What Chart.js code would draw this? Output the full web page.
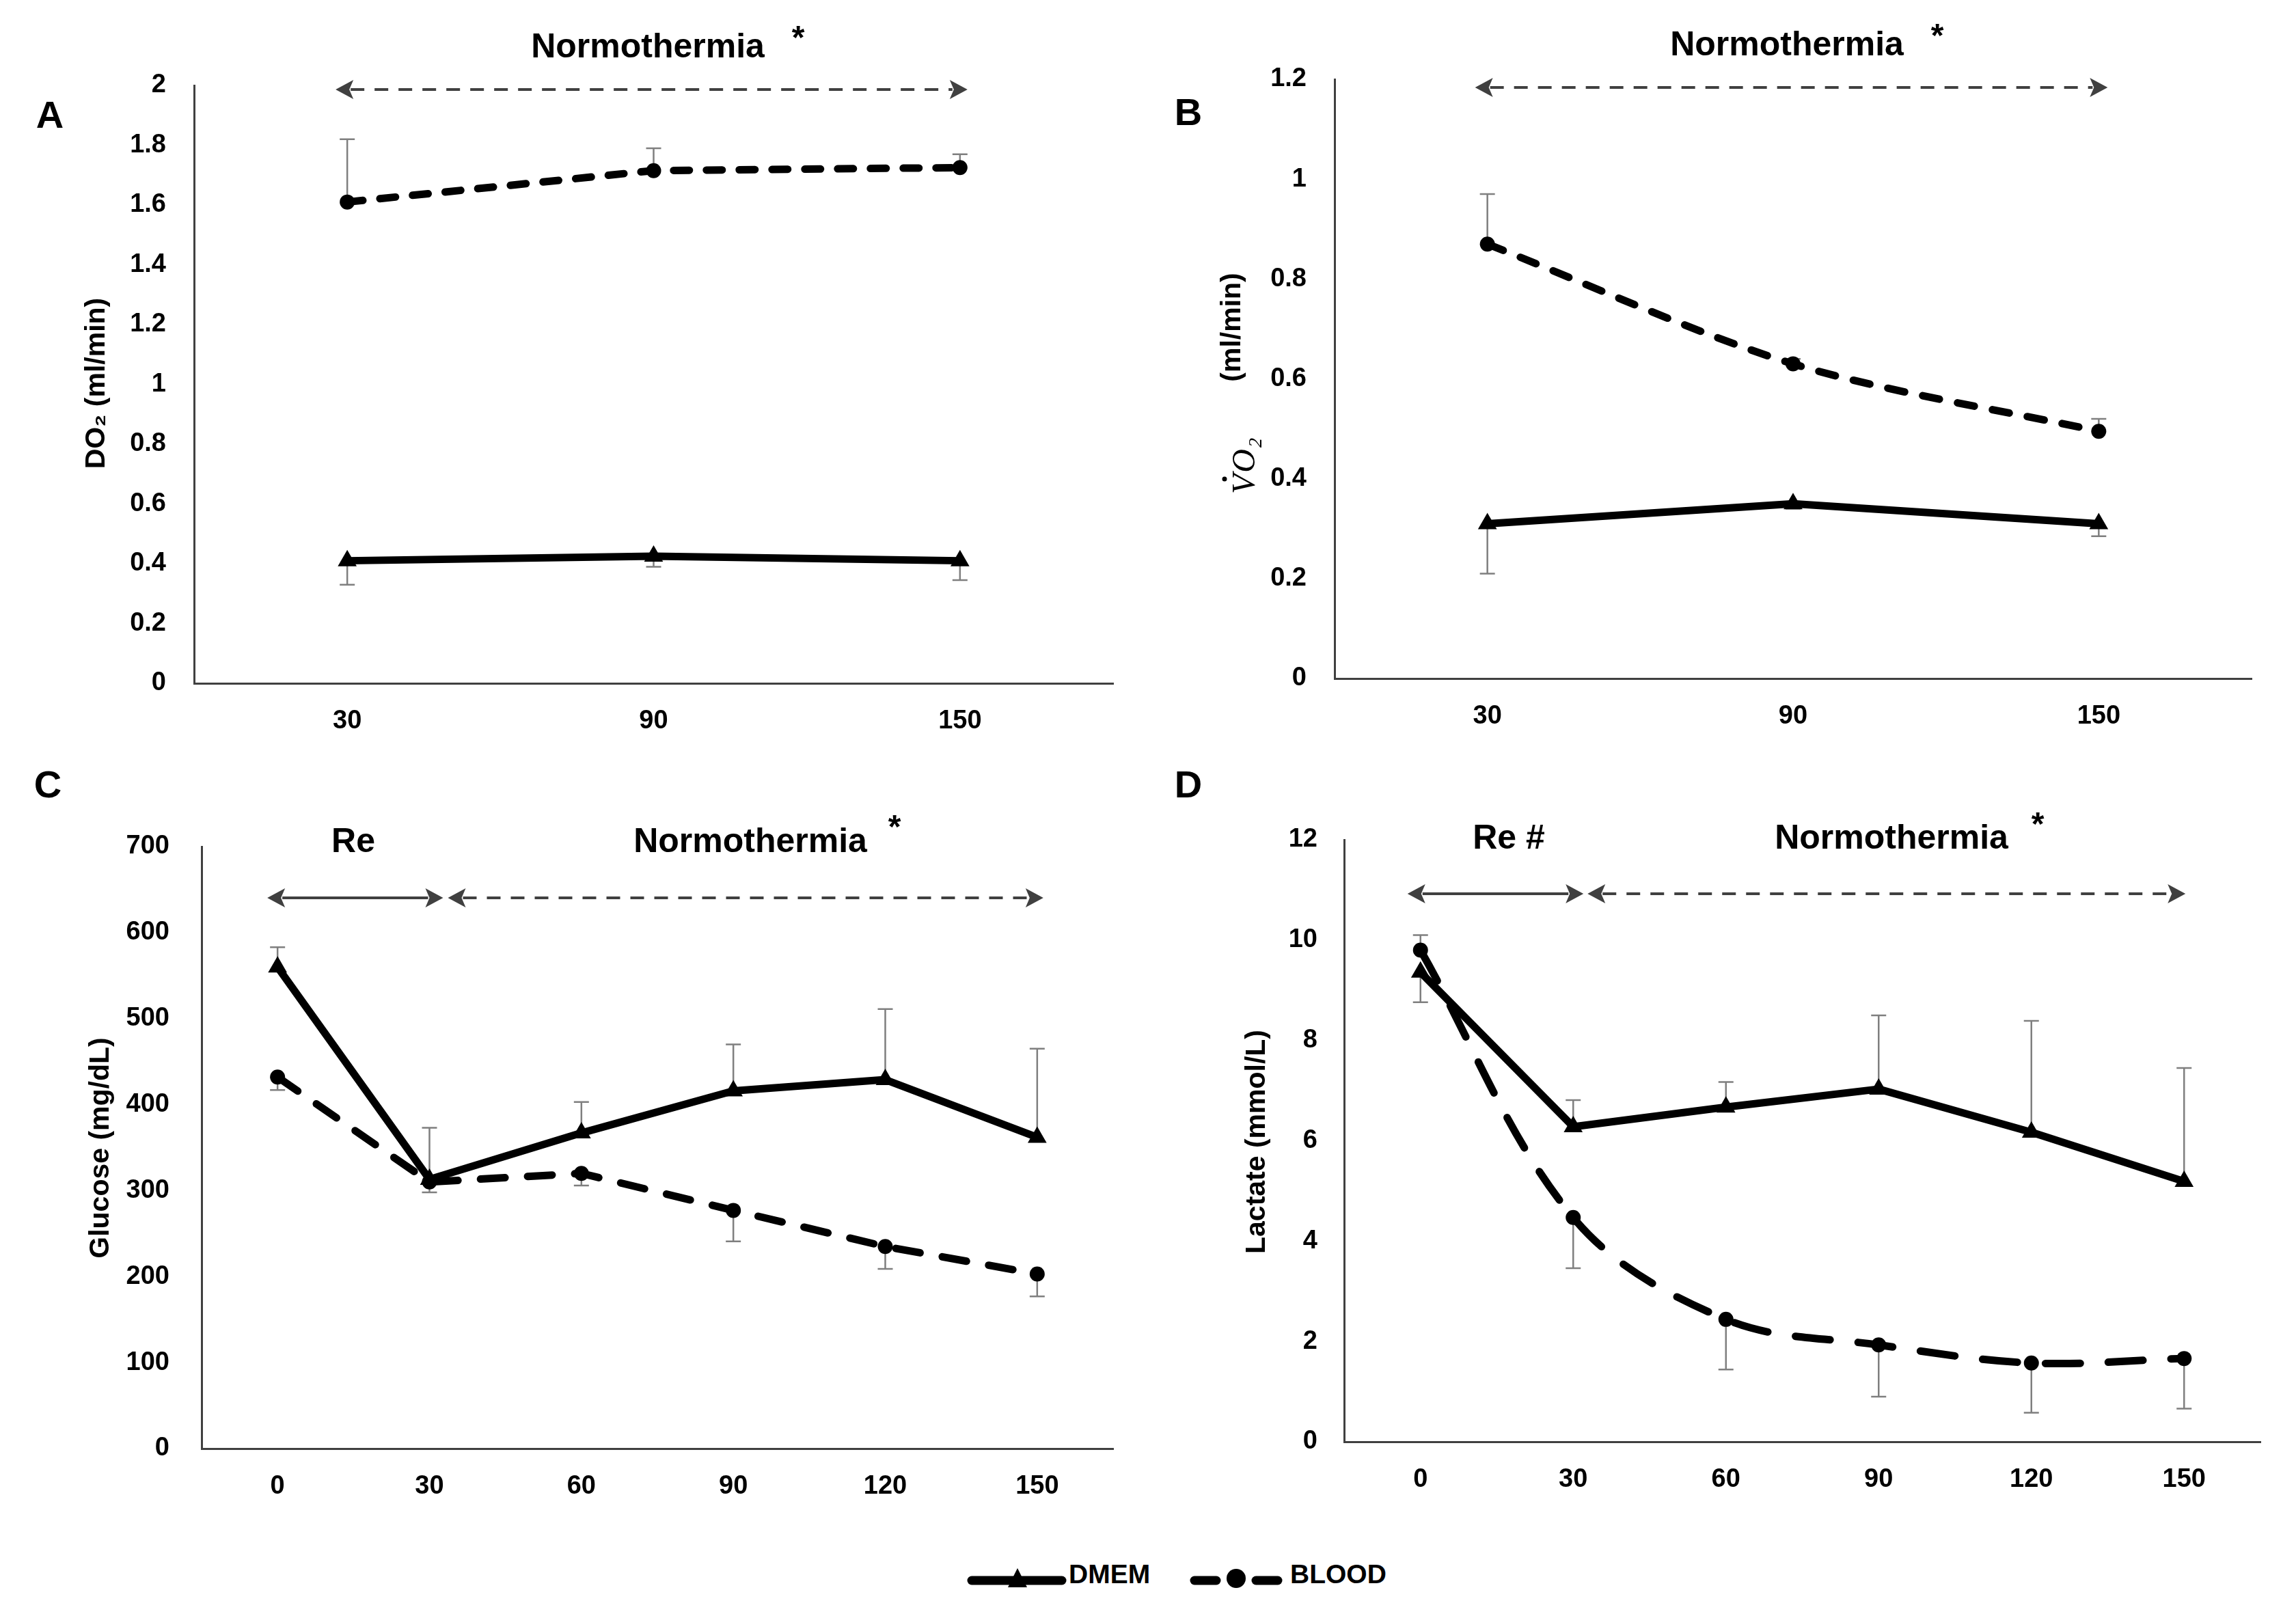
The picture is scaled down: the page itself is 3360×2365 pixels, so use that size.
<!DOCTYPE html>
<html><head><meta charset="utf-8">
<script src="https://cdn.jsdelivr.net/npm/chart.js@4.4.0/dist/chart.umd.min.js"></script>
<style>
html,body{margin:0;padding:0;background:#fff;}
#wrap{position:relative;width:3360px;height:2365px;background:#fff;overflow:hidden;}
#wrap canvas{position:absolute;}
.lg{position:absolute;top:2282px;height:62px;line-height:62px;font:bold 39px "Liberation Sans",Arial,sans-serif;color:#000;white-space:nowrap;}
</style></head><body>
<div id="wrap">
<canvas id="cA" width="1680" height="1100" style="left:0px;top:0px;width:1680px;height:1100px"></canvas>
<canvas id="cB" width="1680" height="1100" style="left:1680px;top:0px;width:1680px;height:1100px"></canvas>
<canvas id="cC" width="1680" height="1160" style="left:0px;top:1100px;width:1680px;height:1160px"></canvas>
<canvas id="cD" width="1680" height="1160" style="left:1680px;top:1100px;width:1680px;height:1160px"></canvas>
<svg class="lg" style="left:1412px;width:150px" width="150" height="62"><line x1="10" y1="31" x2="142" y2="31" stroke="#000" stroke-width="13" stroke-linecap="round"/><polygon points="77,13 91,41 63,41" fill="#000"/></svg>
<span class="lg" style="left:1564px">DMEM</span>
<svg class="lg" style="left:1736px;width:145px" width="145" height="62"><line x1="12" y1="31" x2="44" y2="31" stroke="#000" stroke-width="13" stroke-linecap="round"/><line x1="102" y1="31" x2="134" y2="31" stroke="#000" stroke-width="13" stroke-linecap="round"/><circle cx="73" cy="28" r="14" fill="#000"/></svg>
<span class="lg" style="left:1888px">BLOOD</span>
</div>
<script>
// ---------- DATA ----------
const timesAB = ['30', '90', '150'];
const timesCD = ['0', '30', '60', '90', '120', '150'];

const seriesNames = ['DMEM', 'BLOOD'];

// Panel A: DO2 (ml/min)
const do2Dmem = [0.41, 0.425, 0.41];
const do2DmemErrEnd = [0.33, 0.39, 0.345];
const do2Blood = [1.61, 1.715, 1.725];
const do2BloodErrEnd = [1.82, 1.79, 1.77];
const do2Ticks = [0, 0.2, 0.4, 0.6, 0.8, 1, 1.2, 1.4, 1.6, 1.8, 2];

// Panel B: VO2 (ml/min)
const vo2Dmem = [0.31, 0.35, 0.31];
const vo2DmemErrEnd = [0.21, 0.34, 0.285];
const vo2Blood = [0.87, 0.63, 0.495];
const vo2BloodErrEnd = [0.97, 0.64, 0.52];
const vo2Ticks = [0, 0.2, 0.4, 0.6, 0.8, 1, 1.2];

// Panel C: Glucose (mg/dL)
const gluDmem = [560, 313, 367, 416, 429, 362];
const gluDmemErrEnd = [583, 373, 403, 470, 511, 465];
const gluBlood = [432, 310, 320, 277, 235, 203];
const gluBloodErrEnd = [417, 298, 306, 241, 209, 177];
const gluTicks = [0, 100, 200, 300, 400, 500, 600, 700];

// Panel D: Lactate (mmol/L)
const lacDmem = [9.36, 6.28, 6.67, 7.03, 6.17, 5.19];
const lacDmemErrEnd = [8.76, 6.81, 7.17, 8.5, 8.39, 7.45];
const lacBlood = [9.8, 4.47, 2.44, 1.93, 1.57, 1.66];
const lacBloodErrEnd = [10.1, 3.46, 1.44, 0.9, 0.58, 0.66];
const lacTicks = [0, 2, 4, 6, 8, 10, 12];

// ---------- STYLE ----------
const SANS = '"Liberation Sans", Arial, sans-serif';
const AXIS_COLOR = '#404040';
const ARROW_COLOR = '#404040';

const errorBars = {
  id: 'errorBars',
  beforeDatasetsDraw(chart) {
    const ctx = chart.ctx, ys = chart.scales.y;
    chart.data.datasets.forEach((ds, i) => {
      if (!ds.errEnds) return;
      const meta = chart.getDatasetMeta(i);
      meta.data.forEach((pt, j) => {
        const y2 = ys.getPixelForValue(ds.errEnds[j]);
        ctx.save();
        ctx.strokeStyle = '#7f7f7f';
        ctx.lineWidth = 2.5;
        ctx.beginPath();
        ctx.moveTo(pt.x, pt.y); ctx.lineTo(pt.x, y2);
        ctx.moveTo(pt.x - 11, y2); ctx.lineTo(pt.x + 11, y2);
        ctx.stroke();
        ctx.restore();
      });
    });
  }
};

function drawArrow(ctx, x1, x2, y, dashed) {
  const hl = 26, hh = 14;
  ctx.save();
  ctx.strokeStyle = ARROW_COLOR; ctx.fillStyle = ARROW_COLOR; ctx.lineWidth = 4;
  ctx.setLineDash(dashed ? [20, 15] : []);
  ctx.beginPath(); ctx.moveTo(x1 + hl - 4, y); ctx.lineTo(x2 - hl + 4, y); ctx.stroke();
  ctx.setLineDash([]);
  ctx.beginPath(); ctx.moveTo(x1, y); ctx.lineTo(x1 + hl, y - hh); ctx.lineTo(x1 + hl - 6, y); ctx.lineTo(x1 + hl, y + hh); ctx.closePath(); ctx.fill();
  ctx.beginPath(); ctx.moveTo(x2, y); ctx.lineTo(x2 - hl, y - hh); ctx.lineTo(x2 - hl + 6, y); ctx.lineTo(x2 - hl, y + hh); ctx.closePath(); ctx.fill();
  ctx.restore();
}

const annot = {
  id: 'annot',
  afterDraw(chart, args, o) {
    const ctx = chart.ctx, xs = chart.scales.x;
    ctx.save();
    ctx.fillStyle = '#000';
    ctx.textAlign = 'center'; ctx.textBaseline = 'middle';
    ctx.font = 'bold 56px ' + SANS;
    ctx.fillText(o.letter[0], o.letter[1], o.letter[2]);
    o.texts.forEach(t => {
      ctx.font = 'bold ' + t[3] + 'px ' + SANS;
      ctx.fillText(t[0], t[1], t[2]);
    });
    o.arrows.forEach(a => {
      const x1 = xs.getPixelForValue(a.from) + a.d1;
      const x2 = xs.getPixelForValue(a.to) + a.d2;
      drawArrow(ctx, x1, x2, a.y, a.dashed);
    });
    // rotated y title
    ctx.translate(o.yTitle.x, o.yTitle.y);
    ctx.rotate(-Math.PI / 2);
    if (o.yTitle.custom) {
      o.yTitle.custom(ctx);
    } else {
      ctx.font = 'bold 41px ' + SANS;
      ctx.fillText(o.yTitle.text, 0, 0);
    }
    ctx.restore();
  }
};

function vo2Title(ctx) {
  // in rotated frame: +x goes up on the page, +y goes to the right
  ctx.textAlign = 'left'; ctx.textBaseline = 'alphabetic';
  ctx.font = 'italic 48px "Liberation Serif", "DejaVu Serif", serif';
  const x0 = -165;
  const base = 16;
  ctx.fillText('V', x0, base + 8);
  const wV = ctx.measureText('V').width;
  ctx.fillText('O', x0 + wV + 2, base + 8);
  const wO = ctx.measureText('O').width;
  ctx.beginPath(); ctx.arc(x0 + wV * 0.75, base - 36, 3.5, 0, Math.PI * 2); ctx.fill();
  ctx.font = 'italic 28px "Liberation Serif", "DejaVu Serif", serif';
  ctx.fillText('2', x0 + wV + wO + 4, base + 18);
  ctx.font = 'bold 41px ' + SANS;
  ctx.textAlign = 'center'; ctx.textBaseline = 'middle';
  ctx.fillText('(ml/min)', 79, -8);
}

function makeChart(id, p) {
  const canvas = document.getElementById(id);
  const W = canvas.width, H = canvas.height;
  new Chart(canvas, {
    type: 'line',
    data: {
      labels: p.labels,
      datasets: [
        {
          label: seriesNames[0], data: p.dmem, errEnds: p.dmemErr,
          borderColor: '#000', backgroundColor: '#000', borderWidth: 11,
          pointStyle: 'triangle', pointRadius: 16, pointBorderWidth: 0,
          pointBackgroundColor: '#000', tension: 0, borderJoinStyle: 'round'
        },
        {
          label: seriesNames[1], data: p.blood, errEnds: p.bloodErr,
          borderColor: '#000', backgroundColor: '#000', borderWidth: 11,
          borderDash: p.dash, borderCapStyle: 'round',
          pointStyle: 'circle', pointRadius: 11, pointBorderWidth: 0,
          pointBackgroundColor: '#000', tension: p.tension,
          cubicInterpolationMode: 'default'
        }
      ]
    },
    options: {
      responsive: false, animation: false, devicePixelRatio: 1,
      layout: { padding: { top: p.area.top, right: W - p.area.right, left: 0, bottom: 0 } },
      plugins: { legend: { display: false }, tooltip: { enabled: false }, annot: p.annot },
      scales: {
        x: {
          type: 'category', offset: true,
          grid: { display: false, drawTicks: false },
          border: { display: true, color: AXIS_COLOR, width: 3 },
          ticks: { color: '#000', font: { family: SANS, size: 38, weight: 'bold' }, padding: 33, maxRotation: 0, autoSkip: false },
          afterFit: s => { s.height = H - p.area.bottom; }
        },
        y: {
          min: p.yTicks[0], max: p.yTicks[p.yTicks.length - 1],
          grid: { display: false, drawTicks: false },
          border: { display: true, color: AXIS_COLOR, width: 3 },
          ticks: { color: '#000', font: { family: SANS, size: 38, weight: 'bold' }, padding: p.tickPad, callback: v => String(v) },
          afterBuildTicks: s => { s.ticks = p.yTicks.map(v => ({ value: v })); },
          afterFit: s => { s.width = p.area.left; }
        }
      }
    },
    plugins: [errorBars, annot]
  });
}

makeChart('cA', {
  labels: timesAB, dmem: do2Dmem, dmemErr: do2DmemErrEnd, blood: do2Blood, bloodErr: do2BloodErrEnd,
  yTicks: do2Ticks, dash: [23, 25], tension: 0, tickPad: 41,
  area: { left: 284, right: 1629, top: 125, bottom: 1000 },
  annot: {
    letter: ['A', 73, 172],
    texts: [['Normothermia', 948, 70, 50], ['*', 1168, 58, 48]],
    arrows: [{ from: 0, to: 2, d1: -17, d2: 11, y: 131, dashed: true }],
    yTitle: { x: 142, y: 561, text: 'DO\u2082 (ml/min)' }
  }
});

makeChart('cB', {
  labels: timesAB, dmem: vo2Dmem, dmemErr: vo2DmemErrEnd, blood: vo2Blood, bloodErr: vo2BloodErrEnd,
  yTicks: vo2Ticks, dash: [25, 27], tension: 0.3, tickPad: 41,
  area: { left: 273, right: 1615, top: 116, bottom: 993 },
  annot: {
    letter: ['B', 59, 168],
    texts: [['Normothermia', 935, 67, 50], ['*', 1155, 55, 48]],
    arrows: [{ from: 0, to: 2, d1: -18, d2: 13, y: 128, dashed: true }],
    yTitle: { x: 132, y: 558, custom: vo2Title }
  }
});

makeChart('cC', {
  labels: timesCD, dmem: gluDmem, dmemErr: gluDmemErrEnd, blood: gluBlood, bloodErr: gluBloodErrEnd,
  yTicks: gluTicks, dash: [36, 33], tension: 0, tickPad: 47,
  area: { left: 295, right: 1629, top: 139, bottom: 1020 },
  annot: {
    letter: ['C', 70, 52],
    texts: [['Re', 517, 133, 50], ['Normothermia', 1098, 133, 50], ['*', 1309, 113, 48]],
    arrows: [
      { from: 0, to: 1, d1: -15, d2: 20, y: 214, dashed: false },
      { from: 1, to: 5, d1: 27, d2: 9, y: 214, dashed: true }
    ],
    yTitle: { x: 148, y: 580, text: 'Glucose (mg/dL)' }
  }
});

makeChart('cD', {
  labels: timesCD, dmem: lacDmem, dmemErr: lacDmemErrEnd, blood: lacBlood, bloodErr: lacBloodErrEnd,
  yTicks: lacTicks, dash: [51, 41], tension: 0.35, tickPad: 39,
  area: { left: 287, right: 1628, top: 129, bottom: 1010 },
  annot: {
    letter: ['D', 59, 52],
    texts: [['Re #', 528, 128, 50], ['Normothermia', 1088, 128, 50], ['*', 1302, 109, 48]],
    arrows: [
      { from: 0, to: 1, d1: -19, d2: 15, y: 208, dashed: false },
      { from: 1, to: 5, d1: 21, d2: 2, y: 208, dashed: true }
    ],
    yTitle: { x: 160, y: 571, text: 'Lactate (mmol/L)' }
  }
});
</script>
</body></html>
